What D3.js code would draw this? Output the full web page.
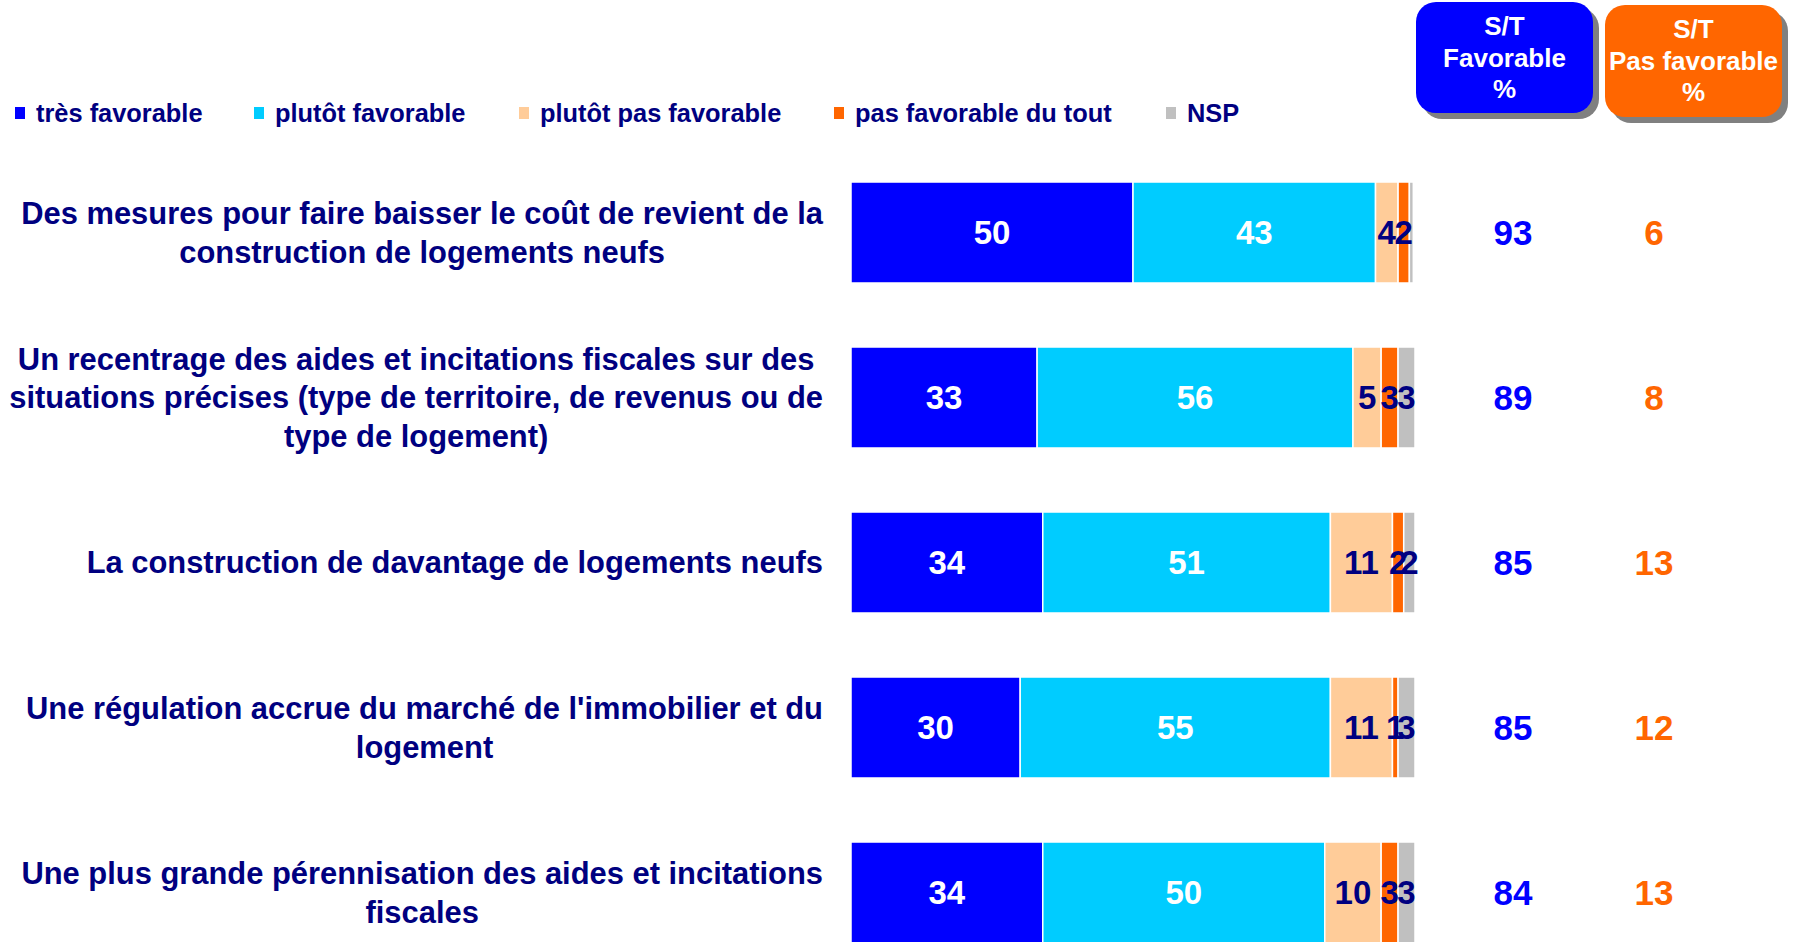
<!DOCTYPE html>
<html>
<head>
<meta charset="utf-8">
<script src="https://cdn.jsdelivr.net/npm/d3@7"></script>
<style>
  body { margin: 0; background: #fff; }
  svg { display: block; font-family: "Liberation Sans", Arial, sans-serif; font-weight: bold; }
</style>
</head>
<body>
<svg id="chart"></svg>
<script>
(function() {
    // Data
    var categories = [
        ["Des mesures pour faire baisser le coût de revient de la", "construction de logements neufs"],
        ["Un recentrage des aides et incitations fiscales sur des", "situations précises (type de territoire, de revenus ou de", "type de logement)"],
        ["La construction de davantage de logements neufs"],
        ["Une régulation accrue du marché de l'immobilier et du", "logement"],
        ["Une plus grande pérennisation des aides et incitations", "fiscales"]
    ];
    var seriesNames = ["très favorable", "plutôt favorable", "plutôt pas favorable", "pas favorable du tout", "NSP"];
    var tresFavorable = [50, 33, 34, 30, 34];
    var plutotFavorable = [43, 56, 51, 55, 50];
    var plutotPasFavorable = [4, 5, 11, 11, 10];
    var pasFavorableDuTout = [2, 3, 2, 1, 3];
    var nsp = [0.7, 3, 2, 3, 3];
    var stFavorable = [93, 89, 85, 85, 84];
    var stPasFavorable = [6, 8, 13, 12, 13];

    var colors = ["#0000FF", "#00CCFF", "#FFCC99", "#FF6600", "#C0C0C0"];
    var labelColors = ["#fff", "#fff", "#000080", "#000080", "#000080"];
    var navy = "#000080";

    var width = 1797, height = 942;
    var svg = d3.select("#chart").attr("width", width).attr("height", height);

    // build rows table
    var series = [tresFavorable, plutotFavorable, plutotPasFavorable, pasFavorableDuTout, nsp];
    var rows = categories.map(function(c, i) {
        var r = {idx: i};
        seriesNames.forEach(function(s, j) { r[s] = series[j][i]; });
        return r;
    });
    var stacked = d3.stack().keys(seriesNames)(rows);

    // scales
    var x = d3.scaleLinear().domain([0, 100]).range([851, 1415]);
    var y = d3.scaleBand().domain(d3.range(categories.length))
        .range([150, 975]).paddingInner(0.388).paddingOuter(0.194);

    // Legend
    var legendX = [15, 254, 519, 834, 1166];
    var legend = svg.append("g").selectAll("g").data(seriesNames).enter().append("g")
        .attr("transform", function(d, i) { return "translate(" + legendX[i] + ",113)"; });
    legend.append("rect").attr("x", 0).attr("y", -6).attr("width", 10).attr("height", 12)
        .attr("fill", function(d, i) { return colors[i]; });
    legend.append("text").attr("x", 21).attr("dy", "0.35em")
        .attr("fill", navy).style("font-size", "25.4px")
        .text(function(d) { return d; });

    // Bars
    var layer = svg.append("g").selectAll("g").data(stacked).enter().append("g")
        .attr("fill", function(d, i) { return colors[i]; });
    layer.selectAll("rect").data(function(d) { return d; }).enter().append("rect")
        .attr("x", function(d) { return x(d[0]); })
        .attr("y", function(d) { return y(d.data.idx); })
        .attr("width", function(d) { return x(d[1]) - x(d[0]); })
        .attr("height", y.bandwidth())
        .attr("stroke", "#fff").attr("stroke-width", 1.5);

    // Segment labels
    var labels = svg.append("g").selectAll("g").data(stacked).enter().append("g")
        .attr("fill", function(d, i) { return labelColors[i]; });
    labels.selectAll("text").data(function(d) { return d.filter(function(p) { return p[1] - p[0] >= 1; }); })
        .enter().append("text")
        .attr("x", function(d) { return (x(d[0]) + x(d[1])) / 2; })
        .attr("y", function(d) { return y(d.data.idx) + y.bandwidth() / 2; })
        .attr("dy", "0.36em")
        .attr("text-anchor", "middle")
        .style("font-size", "33px")
        .text(function(d) { return Math.round(d[1] - d[0]); });

    // Category labels: centered block, right aligned against the bars
    var rightEdge = 823, lineH = 38.5;
    categories.forEach(function(lines, i) {
        var cy = y(i) + y.bandwidth() / 2;
        var g = svg.append("g");
        var t = g.selectAll("text").data(lines).enter().append("text")
            .attr("fill", navy).style("font-size", "30.9px")
            .attr("text-anchor", "middle")
            .attr("y", function(d, k) { return cy + (k - (lines.length - 1) / 2) * lineH; })
            .attr("dy", "0.35em")
            .text(function(d) { return d; });
        var maxW = d3.max(t.nodes(), function(n) { return n.getComputedTextLength(); });
        t.attr("x", rightEdge - maxW / 2);
    });

    // Header boxes
    var boxes = [
        {x: 1416, y: 2, w: 177, h: 111, fill: "#0000FF", lines: ["S/T", "Favorable", "%"]},
        {x: 1605, y: 5, w: 177, h: 112, fill: "#FF6600", lines: ["S/T", "Pas favorable", "%"]}
    ];
    boxes.forEach(function(b) {
        svg.append("rect").attr("x", b.x + 6).attr("y", b.y + 6).attr("width", b.w).attr("height", b.h)
            .attr("rx", 20).attr("fill", "#808080");
        svg.append("rect").attr("x", b.x).attr("y", b.y).attr("width", b.w).attr("height", b.h)
            .attr("rx", 20).attr("fill", b.fill);
        svg.append("g").selectAll("text").data(b.lines).enter().append("text")
            .attr("x", b.x + b.w / 2)
            .attr("y", function(d, k) { return b.y + 24 + k * 31.5; })
            .attr("dy", "0.35em")
            .attr("text-anchor", "middle").attr("fill", "#fff")
            .style("font-size", "26px")
            .text(function(d) { return d; });
    });

    // S/T values
    svg.append("g").selectAll("text").data(stFavorable).enter().append("text")
        .attr("x", 1513).attr("y", function(d, i) { return y(i) + y.bandwidth() / 2; })
        .attr("dy", "0.36em").attr("text-anchor", "middle")
        .attr("fill", "#0000FF").style("font-size", "35px")
        .text(function(d) { return d; });
    svg.append("g").selectAll("text").data(stPasFavorable).enter().append("text")
        .attr("x", 1654).attr("y", function(d, i) { return y(i) + y.bandwidth() / 2; })
        .attr("dy", "0.36em").attr("text-anchor", "middle")
        .attr("fill", "#FF6600").style("font-size", "35px")
        .text(function(d) { return d; });
})();
</script>
</body>
</html>
